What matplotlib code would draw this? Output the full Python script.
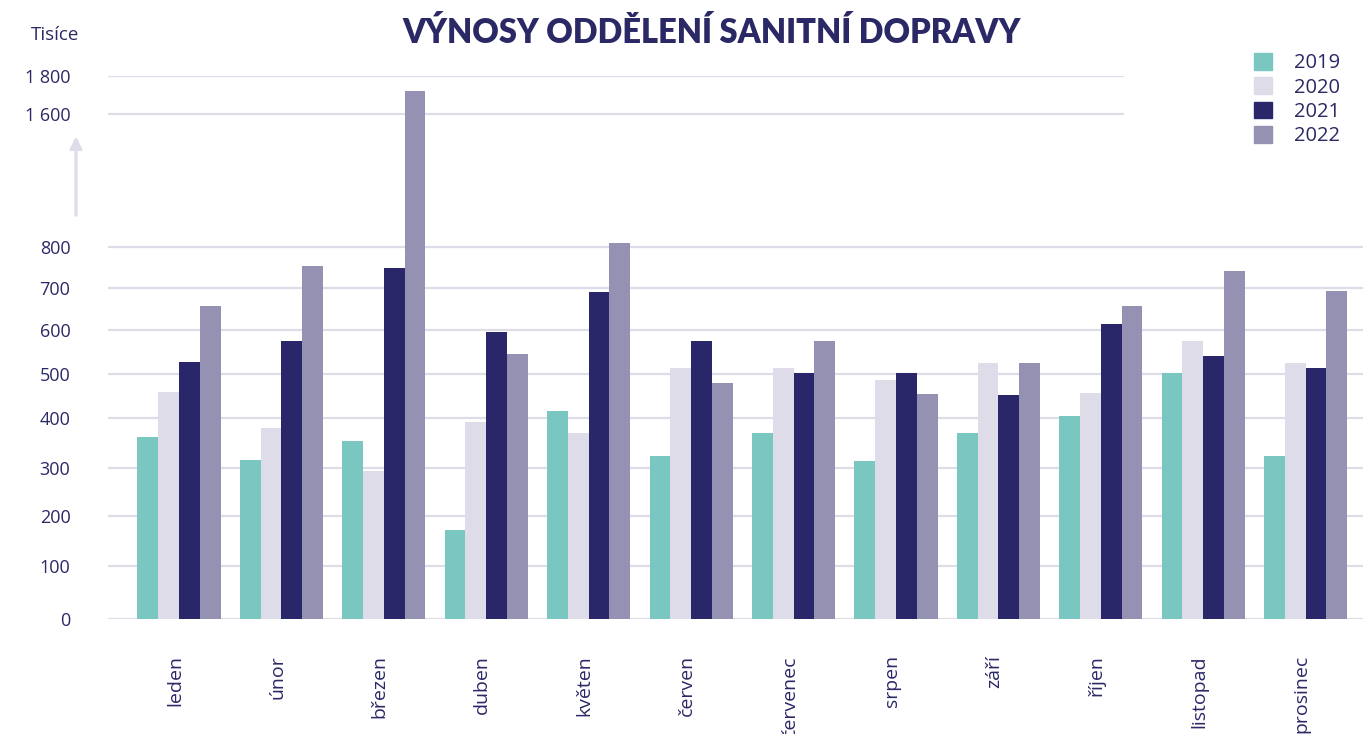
import numpy as np
import matplotlib.pyplot as plt
from matplotlib.patches import Patch

# ---------- data (tisíce Kč) ----------
months = ["leden", "únor", "březen", "duben", "květen", "červen",
          "červenec", "srpen", "září", "říjen", "listopad", "prosinec"]
years = ["2019", "2020", "2021", "2022"]
v2019 = [361, 315, 353, 172, 415, 323, 369, 313, 369, 404, 502, 323]
v2020 = [459, 379, 294, 391, 369, 514, 514, 486, 525, 457, 575, 525]
v2021 = [527, 575, 749, 595, 690, 575, 502, 502, 452, 614, 541, 514]
v2022 = [657, 754, 1721, 545, 810, 479, 575, 454, 525, 657, 741, 692]
yticks = [0, 100, 200, 300, 400, 500, 600, 700, 800, 1600, 1800]

colors = ["#79c7c0", "#dedce8", "#29266a", "#9591b3"]
text_col = "#2b2866"
grid_col = "#dedce8"

# broken / uneven value axis of the original (value -> height in px)
brk_vals = [0, 100, 200, 300, 400, 500, 600, 700, 800, 850, 1600, 1800]
brk_pix = [0, 52.7, 103.3, 151.3, 201.3, 245, 289, 331.3, 371.7, 391.7, 505.3, 542.7]


def fwd(v):
    return np.interp(v, brk_vals, brk_pix)


def inv(p):
    return np.interp(p, brk_pix, brk_vals)


plt.rcParams["font.family"] = ["Open Sans", "DejaVu Sans"]

fig = plt.figure(figsize=(13.63, 7.34), dpi=100)
W, H = 1363, 734
ax = fig.add_axes([108 / W, 1 - 619 / H, (1363 - 108) / W, (619 - 76.3) / H])
ax.set_yscale("function", functions=(fwd, inv))
ax.set_ylim(0, 1800)
ax.set_xlim(-0.693, 11.56)

# gridlines
for t in yticks:
    xmax = 0.809 if t > 800 else 1.0
    ax.axhline(t, xmin=0, xmax=xmax, color=grid_col, lw=1.6, zorder=0)

x = np.arange(len(months))
bw = 0.203
series = [v2019, v2020, v2021, v2022]
for i, (vals, c) in enumerate(zip(series, colors)):
    ax.bar(x + (i - 1.5) * bw, vals, bw, color=c, zorder=2)

for s in ax.spines.values():
    s.set_visible(False)

ax.set_yticks(yticks)
ax.set_yticklabels([f"{t:,}".replace(",", " ") for t in yticks])
ax.yaxis.set_minor_locator(plt.NullLocator())
ax.tick_params(axis="y", length=0, pad=27, labelsize=13, labelcolor=text_col)

ax.set_xticks(x - 0.04)
ax.set_xticklabels(months, rotation=90, va="top", ha="center")
ax.tick_params(axis="x", length=0, pad=26, labelsize=14, labelcolor=text_col)

# axis unit + break arrow
fig.text(55 / W, 1 - 35 / H, "Tisíce", ha="center", va="center",
         fontsize=13.5, color=text_col)
fig.add_artist(plt.annotate(
    "", xy=(76 / W, 1 - 134 / H), xytext=(76 / W, 1 - 218 / H),
    xycoords="figure fraction", textcoords="figure fraction",
    arrowprops=dict(arrowstyle="-|>,head_length=0.7,head_width=0.35",
                    color=grid_col, lw=2)))

fig.text(712 / W, 1 - 33 / H, "VÝNOSY ODDĚLENÍ SANITNÍ DOPRAVY",
         ha="center", va="center", fontsize=23.5, fontweight="heavy",
         family=["Lato", "DejaVu Sans"], color=text_col)

handles = [Patch(color=c) for c in colors]
fig.legend(handles, years, loc="upper left",
           bbox_to_anchor=(1254 / W, 1 - 53 / H), frameon=False,
           fontsize=14.5, labelcolor=text_col, handlelength=0.9,
           handleheight=0.9, handletextpad=1.1, labelspacing=0.2,
           borderaxespad=0, borderpad=0)

plt.savefig("out.png", dpi=100)
